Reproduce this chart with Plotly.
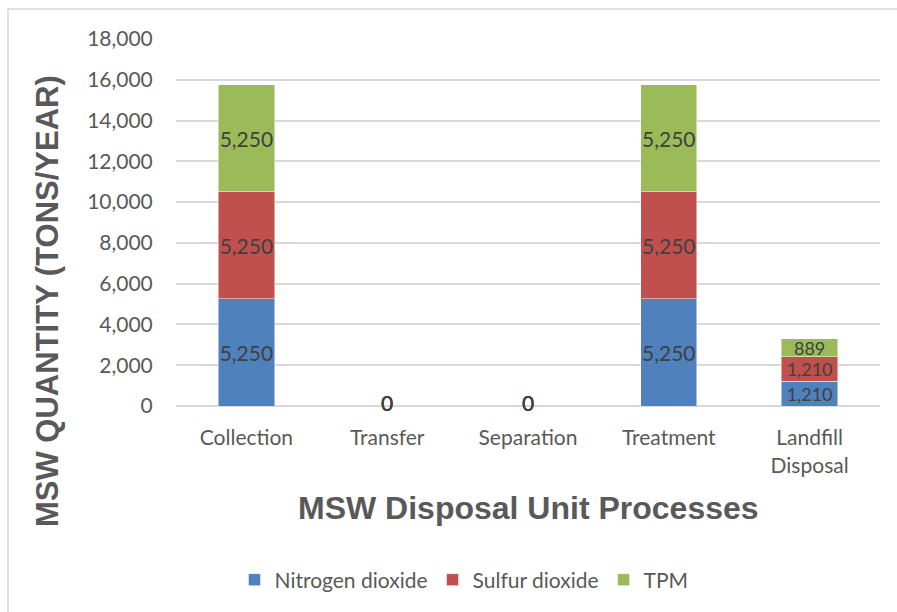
import plotly.graph_objects as go

# Air emissions per MSW disposal unit process (tons/year)
processes = ["Collection", "Transfer", "Separation", "Treatment", "Landfill<br>Disposal"]
nitrogen_dioxide = [5250, 0, 0, 5250, 1210]
sulfur_dioxide = [5250, 0, 0, 5250, 1210]
tpm = [5250, 0, 0, 5250, 889]

series = [
    ("Nitrogen dioxide", nitrogen_dioxide, "#4F81BD"),
    ("Sulfur dioxide", sulfur_dioxide, "#C0504D"),
    ("TPM", tpm, "#9BBB59"),
]

W, H = 897, 612
ML, MR, MT, MB = 176, 17, 39, 206
PW, PH = W - ML - MR, H - MT - MB

def px_x(x):
    return (x - ML) / PW

def px_y(y):
    return (H - MB - y) / PH

LABEL_FONT = "Lato, 'Open Sans', sans-serif"
TITLE_FONT = "'Liberation Sans', Arial, sans-serif"

# Short stacks get a slightly smaller label so neighbouring labels stay apart
totals = [a + b + c for a, b, c in zip(nitrogen_dioxide, sulfur_dioxide, tpm)]
label_sizes = [21 if t > 6000 else 18 for t in totals]

fig = go.Figure()
for name, vals, color in series:
    fig.add_trace(go.Bar(
        name=name,
        x=processes,
        y=vals,
        marker=dict(color=color, line=dict(color="rgba(255,255,255,0.6)", width=0.8)),
        width=0.4,
        text=[f"{v:,}" if v else "" for v in vals],
        textposition="inside",
        insidetextanchor="middle",
        textangle=0,
        textfont=dict(family=LABEL_FONT, size=label_sizes, color="#404040"),
        constraintext="none",
        hoverinfo="x+y+name",
    ))

# Categories with no emissions still show their "0" labels on the baseline
zero_x = [p for p, t in zip(processes, totals) if t == 0]
for vals in [nitrogen_dioxide, sulfur_dioxide, tpm]:
    fig.add_trace(go.Scatter(
        x=zero_x,
        y=[vals[processes.index(p)] for p in zero_x],
        mode="text",
        text=[f"{vals[processes.index(p)]:,}" for p in zero_x],
        textposition="middle center",
        textfont=dict(family=LABEL_FONT, size=21, color="#404040"),
        cliponaxis=False,
        showlegend=False,
        hoverinfo="skip",
    ))

fig.update_layout(
    width=W,
    height=H,
    barmode="stack",
    paper_bgcolor="white",
    plot_bgcolor="white",
    margin=dict(l=ML, r=MR, t=MT, b=MB),
    font=dict(family=LABEL_FONT, color="#595959", size=21),
    xaxis=dict(
        showgrid=False,
        showline=False,
        ticks="outside",
        ticklen=13,
        tickcolor="rgba(0,0,0,0)",
        tickfont=dict(family=LABEL_FONT, size=21, color="#595959"),
    ),
    yaxis=dict(
        range=[0, 18000],
        dtick=2000,
        tickformat=",",
        showgrid=True,
        gridcolor="#D9D9D9",
        gridwidth=1.5,
        zeroline=True,
        zerolinecolor="#D9D9D9",
        zerolinewidth=1.5,
        showline=False,
        ticks="outside",
        ticklen=18,
        tickcolor="rgba(0,0,0,0)",
        tickfont=dict(family=LABEL_FONT, size=21, color="#595959"),
    ),
    legend=dict(
        orientation="h",
        x=px_x(464),
        xanchor="center",
        y=px_y(580),
        yanchor="middle",
        font=dict(family=LABEL_FONT, size=21, color="#595959"),
        itemwidth=30,
        traceorder="normal",
    ),
    showlegend=True,
    annotations=[
        dict(
            text="<b>MSW QUANTITY (TONS/YEAR)</b>",
            xref="paper", yref="paper",
            x=px_x(47), y=px_y(301),
            xanchor="center", yanchor="middle",
            textangle=-90,
            showarrow=False,
            font=dict(family=TITLE_FONT, size=31, color="#595959"),
        ),
        dict(
            text="<b>MSW Disposal Unit Processes</b>",
            xref="paper", yref="paper",
            x=px_x(528), y=px_y(508),
            xanchor="center", yanchor="middle",
            showarrow=False,
            font=dict(family=TITLE_FONT, size=32, color="#595959"),
        ),
    ],
    shapes=[
        dict(
            type="rect",
            xref="paper", yref="paper",
            x0=px_x(8), x1=px_x(W + 5),
            y0=px_y(H + 5), y1=px_y(9),
            line=dict(color="#D9D9D9", width=1.5),
            fillcolor="rgba(0,0,0,0)",
            layer="below",
        ),
    ],
)

fig.write_html("out.html")
